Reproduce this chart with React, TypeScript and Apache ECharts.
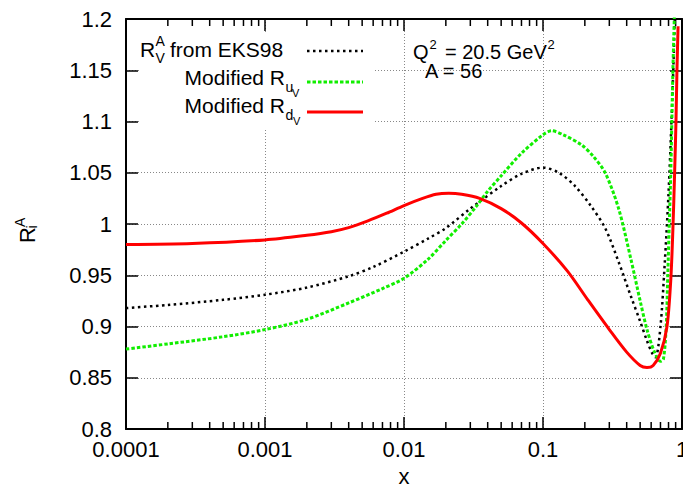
import React, { useEffect, useRef } from 'react';
import * as echarts from 'echarts';

const xTickLabels = ['0.0001', '0.001', '0.01', '0.1', '1'];
const yTickLabels = ['0.8', '0.85', '0.9', '0.95', '1', '1.05', '1.1', '1.15', '1.2'];
const xMinorTicks = [
  0.0002, 0.0003, 0.0004, 0.0005, 0.0006, 0.0007, 0.0008, 0.0009,
  0.002, 0.003, 0.004, 0.005, 0.006, 0.007, 0.008, 0.009,
  0.02, 0.03, 0.04, 0.05, 0.06, 0.07, 0.08, 0.09,
  0.2, 0.3, 0.4, 0.5, 0.6, 0.7, 0.8, 0.9,
];

// R_V^A from EKS98 (black dotted)
const eksX = [0.0001, 0.0002, 0.0005, 0.001, 0.002, 0.004, 0.006, 0.01, 0.015, 0.02, 0.03, 0.05, 0.07, 0.1, 0.13, 0.17, 0.22, 0.28, 0.35, 0.43, 0.5, 0.56, 0.61, 0.645, 0.7, 0.75, 0.8, 0.84, 0.87, 0.9];
const eksY = [0.918, 0.921, 0.926, 0.931, 0.938, 0.949, 0.958, 0.973, 0.986, 0.996, 1.015, 1.037, 1.049, 1.055, 1.05, 1.037, 1.018, 0.996, 0.963, 0.929, 0.905, 0.886, 0.874, 0.870, 0.9, 0.96, 1.03, 1.1, 1.16, 1.23];

// Modified R_uV (green dashed)
const uvX = [0.0001, 0.0002, 0.0005, 0.001, 0.002, 0.004, 0.007, 0.01, 0.015, 0.02, 0.026, 0.033, 0.04, 0.05, 0.07, 0.1, 0.115, 0.14, 0.19, 0.23, 0.28, 0.35, 0.43, 0.5, 0.56, 0.63, 0.7, 0.735, 0.77, 0.79, 0.81, 0.83, 0.845, 0.86, 0.88, 0.9];
const uvY = [0.878, 0.883, 0.89, 0.897, 0.907, 0.923, 0.937, 0.947, 0.966, 0.984, 1.0, 1.017, 1.032, 1.047, 1.069, 1.087, 1.091, 1.087, 1.077, 1.066, 1.05, 1.015, 0.965, 0.925, 0.897, 0.876, 0.866, 0.868, 0.9, 0.95, 1.0, 1.05, 1.1, 1.15, 1.2, 1.25];

// Modified R_dV (red solid)
const dvX = [0.0001, 0.0003, 0.001, 0.002, 0.003, 0.004, 0.0055, 0.0075, 0.01, 0.0136, 0.017, 0.021, 0.026, 0.035, 0.05, 0.07, 0.1, 0.15, 0.21, 0.3, 0.4, 0.5, 0.56, 0.62, 0.7, 0.78, 0.83, 0.86, 0.885, 0.905, 0.92, 0.937];
const dvY = [0.98, 0.981, 0.9845, 0.989, 0.9925, 0.9965, 1.003, 1.0105, 1.018, 1.025, 1.029, 1.03, 1.029, 1.025, 1.015, 1.001, 0.981, 0.954, 0.926, 0.897, 0.875, 0.862, 0.86, 0.862, 0.874, 0.9, 0.945, 0.995, 1.05, 1.1, 1.15, 1.193];

const FONT = '"Liberation Sans", Arial, Helvetica, sans-serif';

function txt(x: number, baseline: number, text: string, size: number, align = 'left', z = 10) {
  const y = baseline - 0.3465 * size;
  return {
    type: 'text',
    x,
    y,
    z,
    style: {
      text,
      fontSize: size,
      fontFamily: FONT,
      lineHeight: Math.round(size * 0.7),
      fill: '#000',
      textAlign: align,
      align,
      textVerticalAlign: 'middle',
      verticalAlign: 'middle',
    },
  };
}

function pairs(xs: number[], ys: number[]) {
  return xs.map((x, i) => [x, ys[i]]);
}

export default function App() {
  const ref = useRef<HTMLDivElement>(null);
  useEffect(() => {
    const chart = echarts.init(ref.current as HTMLDivElement, null, { renderer: 'svg' });
    const gridLine = { show: true, lineStyle: { color: '#888', width: 1, type: [1, 2] as any } };
    const option: any = {
      animation: false,
      backgroundColor: '#fff',
      grid: { left: 126, top: 19, right: 1, bottom: 59, containLabel: false, outerBoundsMode: 'none' },
      xAxis: [
        {
          type: 'log',
          logBase: 10,
          min: 0.0001,
          max: 1,
          position: 'bottom',
          axisLine: { show: true, lineStyle: { color: '#000', width: 2 } },
          axisTick: { show: true, inside: true, length: 12, lineStyle: { color: '#000', width: 1.5 } },
          axisLabel: {
            show: true,
            margin: 12,
            color: '#000',
            fontSize: 22,
            lineHeight: 16,
            fontFamily: FONT,
            hideOverlap: false,
            formatter: (v: number) => xTickLabels[Math.round(Math.log10(v)) + 4] ?? '',
          },
          splitLine: gridLine,
        },
        {
          type: 'log',
          logBase: 10,
          min: 0.0001,
          max: 1,
          position: 'top',
          axisLine: { show: true, lineStyle: { color: '#000', width: 2 } },
          axisTick: { show: true, inside: true, length: 12, lineStyle: { color: '#000', width: 1.5 } },
          axisLabel: { show: false },
          splitLine: { show: false },
        },
      ],
      yAxis: [
        {
          type: 'value',
          min: 0.8,
          max: 1.2,
          interval: 0.05,
          position: 'left',
          axisLine: { show: true, lineStyle: { color: '#000', width: 2 } },
          axisTick: { show: true, inside: true, length: 12, lineStyle: { color: '#000', width: 1.5 } },
          axisLabel: {
            show: true,
            margin: 14,
            color: '#000',
            fontSize: 22,
            lineHeight: 16,
            fontFamily: FONT,
            formatter: (v: number) => yTickLabels[Math.round((v - 0.8) / 0.05)] ?? '',
          },
          splitLine: gridLine,
        },
        {
          type: 'value',
          min: 0.8,
          max: 1.2,
          interval: 0.05,
          position: 'right',
          axisLine: { show: true, lineStyle: { color: '#000', width: 2 } },
          axisTick: { show: true, inside: true, length: 12, lineStyle: { color: '#000', width: 1.5 } },
          axisLabel: { show: false },
          splitLine: { show: false },
        },
      ],
      series: [
        {
          type: 'custom',
          name: 'minor',
          xAxisIndex: 0,
          yAxisIndex: 0,
          silent: true,
          clip: false,
          z: 3,
          data: xMinorTicks.map((v) => [v, 0.8]),
          renderItem: (_p: any, api: any) => {
            const x = api.value(0);
            const b = api.coord([x, 0.8]);
            const t = api.coord([x, 1.2]);
            const st = { stroke: '#000', lineWidth: 1.5 };
            return {
              type: 'group',
              children: [
                { type: 'line', shape: { x1: b[0], y1: b[1], x2: b[0], y2: b[1] - 7 }, style: st },
                { type: 'line', shape: { x1: t[0], y1: t[1], x2: t[0], y2: t[1] + 7 }, style: st },
              ],
            };
          },
        },
        {
          type: 'line',
          name: 'EKS98',
          data: pairs(eksX, eksY),
          showSymbol: false,
          smooth: 0.3,
          z: 4,
          lineStyle: { color: '#000', width: 2.5, type: [2.5, 3.5], cap: 'butt' },
        },
        {
          type: 'line',
          name: 'uV',
          data: pairs(uvX, uvY),
          showSymbol: false,
          smooth: 0.3,
          z: 5,
          lineStyle: { color: '#11ee00', width: 3, type: [3.5, 2], cap: 'butt' },
        },
        {
          type: 'line',
          name: 'dV',
          data: pairs(dvX, dvY),
          showSymbol: false,
          smooth: 0.3,
          z: 6,
          lineStyle: { color: '#ff0000', width: 3, type: 'solid' },
        },
      ],
      graphic: [
        { type: 'rect', z: 1, shape: { x: 139, y: 32, width: 234, height: 96 }, style: { fill: '#fff' } },
        txt(140, 57, 'R', 21),
        txt(155.5, 46, 'A', 14),
        txt(155.5, 63, 'V', 14),
        txt(170, 57, 'from EKS98', 21),
        txt(285, 85, 'Modified R', 21, 'right'),
        txt(285.5, 92, 'u', 14),
        txt(292, 97, 'V', 11),
        txt(285, 113, 'Modified R', 21, 'right'),
        txt(285.5, 120, 'd', 14),
        txt(293, 125, 'V', 11),
        { type: 'line', z: 10, shape: { x1: 307, y1: 51, x2: 363, y2: 51 }, style: { stroke: '#000', lineWidth: 2.5, lineDash: [2.5, 3.5] } },
        { type: 'line', z: 10, shape: { x1: 307, y1: 82, x2: 363, y2: 82 }, style: { stroke: '#11ee00', lineWidth: 3, lineDash: [3.5, 2] } },
        { type: 'line', z: 10, shape: { x1: 307, y1: 112, x2: 363, y2: 112 }, style: { stroke: '#ff0000', lineWidth: 3 } },
        txt(413, 59, 'Q', 20),
        txt(429.5, 49.5, '2', 13),
        txt(445, 59, '= 20.5 GeV', 20),
        txt(547.5, 49.5, '2', 13),
        txt(425, 78, 'A = 56', 20),
        txt(404, 484, 'x', 22, 'center'),
        {
          type: 'group',
          x: 35,
          y: 243,
          rotation: Math.PI / 2,
          children: [
            txt(0, 0, 'R', 22),
            txt(14.5, 2, 'i', 14),
            txt(16, -10, 'A', 14),
          ],
        },
      ],
    };
    chart.setOption(option);
    return () => chart.dispose();
  }, []);
  return (
    <div
      ref={ref}
      style={{ position: 'fixed', left: 0, top: 0, width: 683, height: 488, background: '#fff' }}
    />
  );
}
